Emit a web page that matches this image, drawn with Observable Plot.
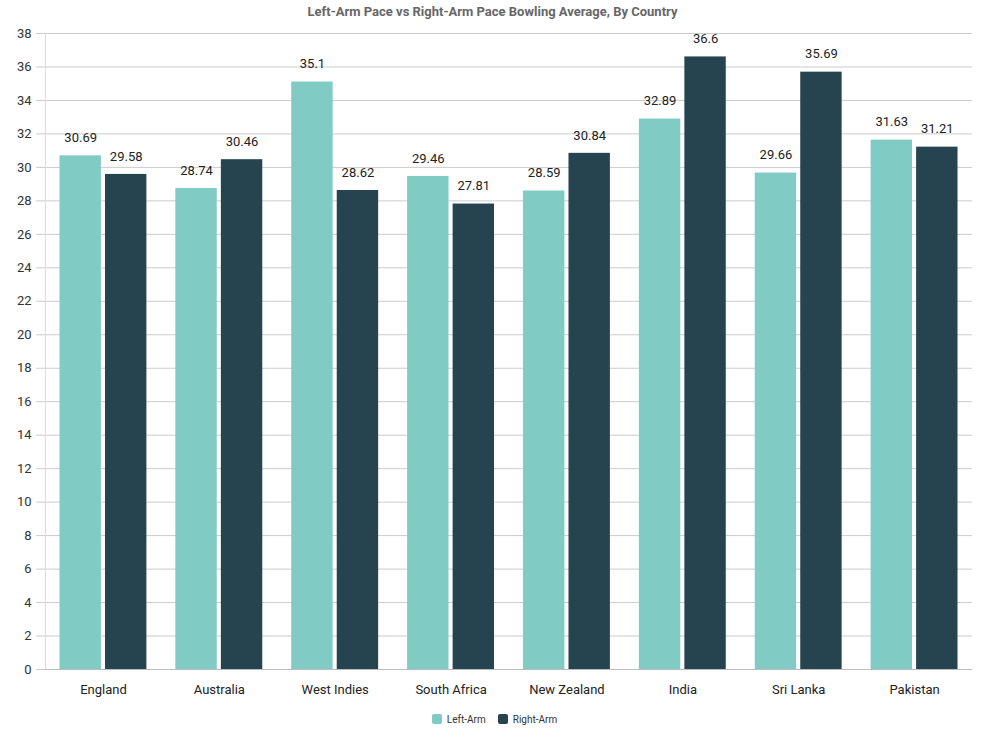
<!DOCTYPE html>
<html>
<head>
<meta charset="utf-8">
<script src="https://cdn.jsdelivr.net/npm/d3@7"></script>
<script src="https://cdn.jsdelivr.net/npm/@observablehq/plot@0.6"></script>
<style>
  body { margin: 0; background: #fff; font-family: Roboto, "Noto Sans", sans-serif; }
  #wrap { width: 985px; }
  #title { height: 24px; line-height: 24px; text-align: center; font-size: 13px; font-weight: bold; color: #666; }
  #legend { display: flex; justify-content: center; align-items: center; gap: 12px; height: 28px; font-size: 10px; color: #333; padding-left: 4px; }
  .sw { display: inline-block; width: 10px; height: 10px; border-radius: 2px; margin-right: 5px; vertical-align: -1px; }
</style>
</head>
<body>
<div id="wrap">
  <div id="title">Left-Arm Pace vs Right-Arm Pace Bowling Average, By Country</div>
  <div id="chart"></div>
  <div id="legend"></div>
</div>
<script>
const countries = ["England", "Australia", "West Indies", "South Africa", "New Zealand", "India", "Sri Lanka", "Pakistan"];
const leftArm  = [30.69, 28.74, 35.1, 29.46, 28.59, 32.89, 29.66, 31.63];
const rightArm = [29.58, 30.46, 28.62, 27.81, 30.84, 36.6, 35.69, 31.21];
const seriesNames = ["Left-Arm", "Right-Arm"];
const seriesColors = ["#80cbc4", "#25444f"];
const yTicks = d3.range(0, 39, 2);

const leftData = countries.map((c, i) => ({country: c, value: leftArm[i]}));
const rightData = countries.map((c, i) => ({country: c, value: rightArm[i]}));

const fontFamily = 'Roboto, "Noto Sans", sans-serif';
const inset = 45.5;
const off = 22.75;

const chart = Plot.plot({
  width: 985,
  height: 681,
  marginTop: 9,
  marginBottom: 36,
  marginLeft: 45,
  marginRight: 13,
  style: {fontFamily, fontSize: "13px", color: "#333", background: "#fff"},
  x: {domain: countries, paddingInner: 0.25, paddingOuter: 0.125, round: false, label: null},
  y: {domain: [0, 38], label: null},
  marks: [
    Plot.gridY(yTicks, {stroke: "#cccccc", strokeOpacity: 1}),
    Plot.axisY(yTicks, {tickSize: 9, tickPadding: 5, stroke: "#cccccc", fill: "#333", fontSize: 13, label: null}),
    Plot.frame({anchor: "left", stroke: "#dddddd"}),
    Plot.barY(leftData, {x: "country", y: "value", fill: seriesColors[0], insetRight: inset}),
    Plot.barY(rightData, {x: "country", y: "value", fill: seriesColors[1], insetLeft: inset}),
    Plot.ruleY([0], {stroke: "#bbbbbb"}),
    Plot.text(leftData, {x: "country", y: "value", text: d => String(d.value), dx: -off, dy: -18, fill: "#222", fontSize: 13}),
    Plot.text(rightData, {x: "country", y: "value", text: d => String(d.value), dx: off, dy: -18, fill: "#222", fontSize: 13}),
    Plot.axisX({tickSize: 0, tickPadding: 15, fill: "#222", fontSize: 13, label: null})
  ]
});
document.getElementById("chart").appendChild(chart);

const legend = document.getElementById("legend");
seriesNames.forEach((n, i) => {
  const item = document.createElement("span");
  item.innerHTML = `<span class="sw" style="background:${seriesColors[i]}"></span>${n}`;
  legend.appendChild(item);
});
</script>
</body>
</html>
